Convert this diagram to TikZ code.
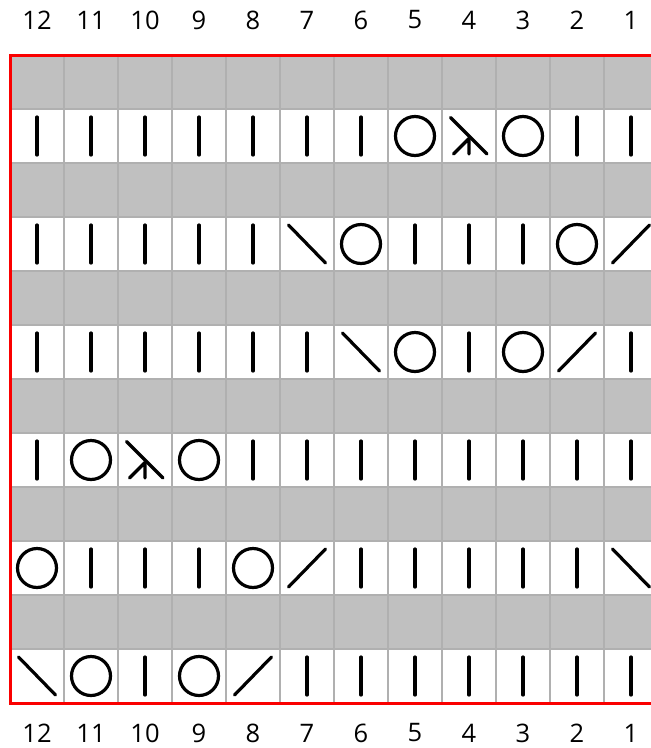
\documentclass[tikz,border=0pt]{standalone}
\usepackage{fontspec}
\setmainfont{Open Sans}
\definecolor{rowgray}{RGB}{192,192,192}
\definecolor{gridgray}{RGB}{176,176,176}
\definecolor{frame}{RGB}{250,0,0}
\tikzset{
  sym/.style={line width=3.2pt, line cap=round, line join=round, black},
  gridline/.style={line width=2.6pt, gridgray},
  numlabel/.style={inner sep=0pt, font=\fontsize{25.5}{30}\selectfont},
  pics/K/.style={code={\draw[sym] (0,-19) -- (0,19);}},
  pics/O/.style={code={\draw[sym] (0,0) circle[radius=19.5];}},
  pics/B/.style={code={\draw[sym] (-18.5,-19) -- (18.5,19);}},
  pics/F/.style={code={\draw[sym] (-18.5,19) -- (18.5,-19);}},
  pics/S/.style={code={\draw[sym] (-18.5,-18.5) -- (18,18);
      \draw[sym] (-15.5,18) -- (0,2.5) -- (0,18);}},
}
\begin{document}
\begin{tikzpicture}[x=1pt,y=-1pt]
\useasboundingbox (0,0) rectangle (651,748);
\clip (0,0) rectangle (651,748);
\fill[white] (0,0) rectangle (651,748);
% gray rows
\foreach \r in {0,2,4,6,8,10} {
  \fill[rowgray] (10,{55+54*\r}) rectangle (658,{109+54*\r});
}
% grid lines
\foreach \k in {1,...,11} {
  \draw[gridline] ({10+54*\k},55) -- ({10+54*\k},703);
}
\foreach \r in {1,...,11} {
  \draw[gridline] (10,{55+54*\r}) -- (658,{55+54*\r});
}
% frame
\draw[frame, line width=3pt] (10,55) rectangle (658,703);
% column numbers
\foreach \k in {0,...,11} {
  \pgfmathtruncatemacro{\lab}{12-\k}
  \node[numlabel] (top\lab) at ({37+54*\k},20) {\lab};
  \node[numlabel] (bot\lab) at ({37+54*\k},733) {\lab};
}
% symbols
\foreach \r/\row in {
  2/{K,K,K,K,K,K,K,O,S,O,K,K},
  4/{K,K,K,K,K,B,O,K,K,K,O,F},
  6/{K,K,K,K,K,K,B,O,K,O,F,K},
  8/{K,O,S,O,K,K,K,K,K,K,K,K},
  10/{O,K,K,K,O,F,K,K,K,K,K,B},
  12/{B,O,K,O,F,K,K,K,K,K,K,K}} {
  \foreach \c [count=\i from 0] in \row {
    \pgfmathsetmacro{\xx}{37+54*\i}
    \pgfmathsetmacro{\yy}{82+54*(\r-1)}
    \edef\tmp{\noexpand\pic at (\xx,\yy) {\c};}
    \tmp
  }
}
\end{tikzpicture}
\end{document}
